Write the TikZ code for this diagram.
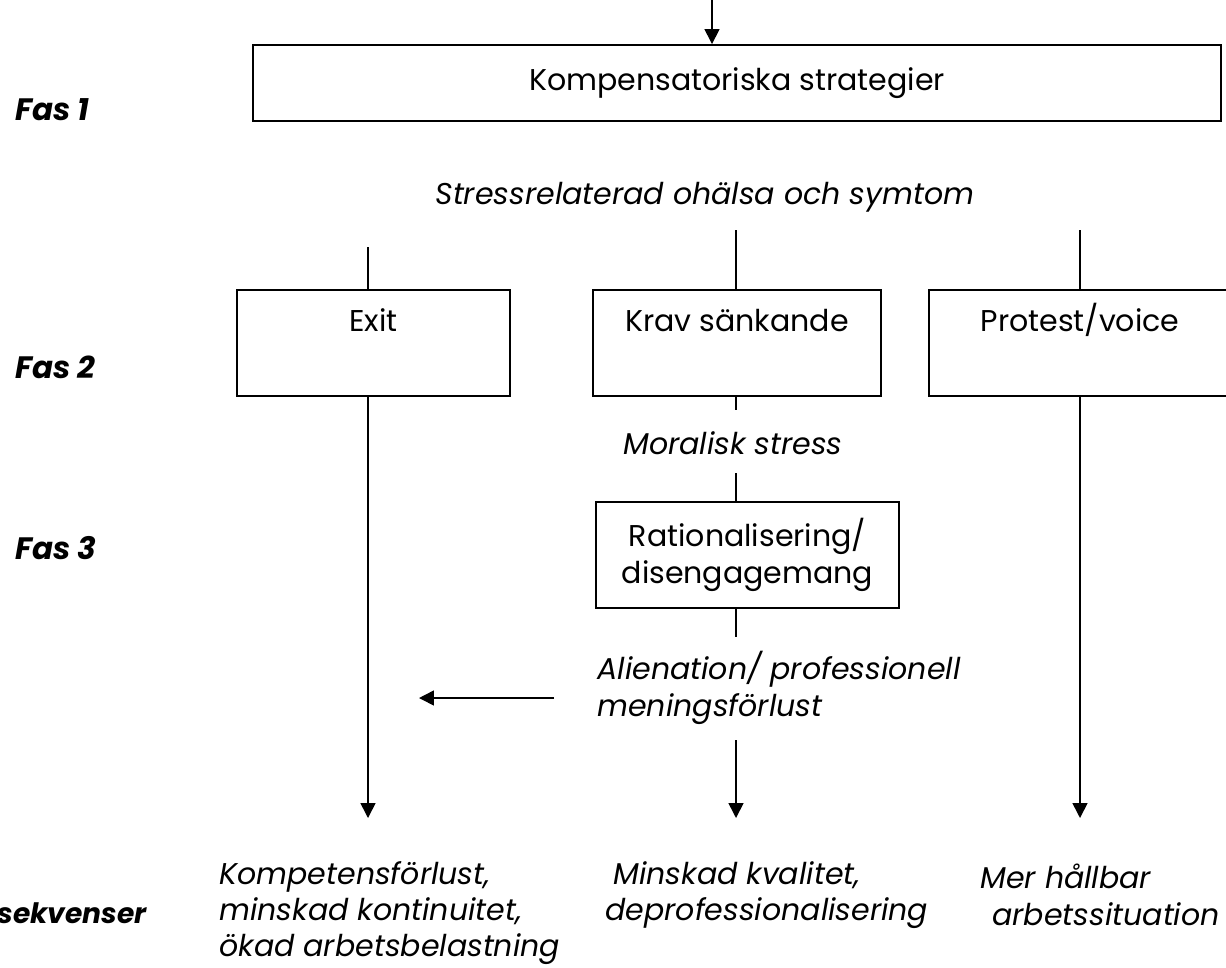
\documentclass[tikz,border=0pt]{standalone}
\usepackage{fontspec}
\setmainfont{Poppins}
\usetikzlibrary{arrows.meta}
\tikzset{
    box/.style={draw=black, line width=1.1pt, inner sep=0pt},
    txt/.style={inner sep=0pt, font=\fontsize{17.1}{20.7}\selectfont},
    itxt/.style={txt, font=\fontsize{17.1}{20.7}\selectfont\itshape},
    fas/.style={txt, anchor=west, font=\fontsize{17.6}{20.7}\selectfont\bfseries\itshape},
    conn/.style={line width=0.9pt},
    arr/.style={conn, -{Triangle[length=8.5pt,width=8.5pt]}}
}

\begin{document}
\begin{tikzpicture}[x=0.02cm, y=-0.02cm]
    \useasboundingbox (0,0) rectangle (1226,967);
    \clip (0,0) rectangle (1226,967);
    % phases
    \node[fas] (fas1) at (15,110) {Fas 1};
    \node[fas] (fas2) at (15,367) {Fas 2};
    \node[fas] (fas3) at (15,548) {Fas 3};
    \node[fas, anchor=east, font=\fontsize{16}{20.7}\selectfont\bfseries\itshape] (kons) at (147,913) {Konsekvenser};
    % boxes
    \node[box, txt, minimum width=19.36cm, minimum height=1.52cm] (komp) at (737,83) {Kompensatoriska strategier};
    \node[box, minimum width=5.46cm, minimum height=2.12cm] (exit) at (373.5,343) {};
    \node[box, minimum width=5.76cm, minimum height=2.12cm] (krav) at (737,343) {};
    \node[box, minimum width=6.04cm, minimum height=2.12cm] (protest) at (1080,343) {};
    \node[txt, anchor=base] (exitt) at ([yshift=-0.84cm]exit.north) {Exit};
    \node[txt, anchor=base] (kravt) at ([yshift=-0.84cm]krav.north) {Krav sänkande};
    \node[txt, anchor=base] (protestt) at ([yshift=-0.84cm]protest.north) {Protest/voice};
    \node[box, txt, align=center, minimum width=6.06cm, minimum height=2.12cm] (rat) at (747.5,555) {Rationalisering/\\disengagemang};
    % italic texts
    \node[itxt] (stress) at (705,197) {Stressrelaterad ohälsa och symtom};
    \node[itxt] (moral) at (733,443) {Moralisk stress};
    \node[itxt, anchor=west, align=left] (alien) at (597,688) {Alienation/ professionell\\meningsförlust};
    \node[itxt, anchor=west, align=left] (konsA) at (219,913) {Kompetensförlust,\\minskad kontinuitet,\\ökad arbetsbelastning};
    \node[itxt, anchor=west, align=left] (konsB) at (605,895) {\hspace*{0.27em}Minskad kvalitet,\\deprofessionalisering};
    \node[itxt, anchor=west, align=left] (konsC) at (980,895) {Mer hållbar\\\hspace*{0.4em}arbetssituation};
    % free ends
    \coordinate (topin) at (712,0);
    \coordinate (exitin) at (368,247);
    \coordinate (kravin) at (736,230);
    \coordinate (protin) at (1080,230);
    \coordinate (exitout) at (368,818);
    \coordinate (protout) at (1080,818);
    \coordinate (moralA) at (736,410);
    \coordinate (moralB) at (736,473);
    \coordinate (alienA) at (736,637);
    \coordinate (alienB) at (736,740);
    \coordinate (midout) at (736,818);
    \coordinate (alienarr) at (554,698);
    \coordinate (alientip) at (419,698);
    % connectors
    \draw[arr] (topin) -- (topin |- komp.north);
    \draw[conn] (exitin) -- (exitin |- exit.north);
    \draw[conn] (kravin) -- (kravin |- krav.north);
    \draw[conn] (protin) -- (protest.north);
    \draw[arr] (exitout |- exit.south) -- (exitout);
    \draw[arr] (protest.south) -- (protout);
    \draw[conn] (moralA |- krav.south) -- (moralA);
    \draw[conn] (moralB) -- (moralB |- rat.north);
    \draw[conn] (alienA |- rat.south) -- (alienA);
    \draw[arr] (alienB) -- (midout);
    \draw[arr] (alienarr) -- (alientip);
\end{tikzpicture}
\end{document}
